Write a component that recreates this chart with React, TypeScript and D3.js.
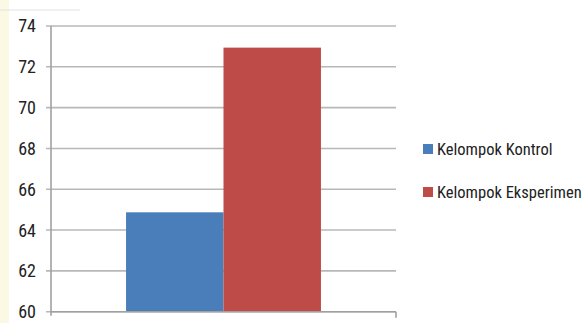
import React from "react";
import * as d3 from "d3";

const categories = ["Hasil"];
const seriesNames = ["Kelompok Kontrol", "Kelompok Eksperimen"];
const seriesValues = [64.87, 72.94];
const seriesColors = ["#4a7ebb", "#be4b48"];
const yTicks = [60, 62, 64, 66, 68, 70, 72, 74];

export default function App() {
  const W = 586, H = 323;
  const left = 51, right = 396, top = 26, bottom = 311.7;
  const y = d3.scaleLinear().domain([60, 74]).range([bottom, top]);
  const x0 = d3.scaleBand().domain(categories).range([left, right]).paddingInner(0).paddingOuter(0.385);
  const x1 = d3.scaleBand().domain(seriesNames).range([0, x0.bandwidth()]);
  const font = "'Liberation Sans Narrow', 'Roboto Condensed', Arial, sans-serif";
  return (
    <svg width={W} height={H} style={{ position: "absolute", left: 0, top: 0, background: "#fff" }}>
      <rect x={0} y={0} width={9} height={H} fill="#fbf8e4" />
      <rect x={0} y={9} width={80} height={2} fill="#e6e6e6" opacity={0.6} />
      {yTicks.map((t) => (
        <g key={t}>
          <line x1={46} x2={right} y1={y(t)} y2={y(t)} stroke="#b8b8b8" strokeWidth={1.6} />
          <text x={36} y={y(t)} dy="0.36em" textAnchor="end" fontFamily={font} fontSize={18} fill="#222">{t}</text>
        </g>
      ))}
      {categories.map((c) =>
        seriesNames.map((s, i) => (
          <rect key={s} x={(x0(c) ?? 0) + (x1(s) ?? 0)} width={x1.bandwidth()} y={y(seriesValues[i])}
            height={bottom - y(seriesValues[i])} fill={seriesColors[i]} />
        ))
      )}
      <line x1={left} x2={left} y1={top} y2={bottom + 4} stroke="#a0a0a0" strokeWidth={1.6} />
      <line x1={left} x2={right} y1={bottom} y2={bottom} stroke="#a0a0a0" strokeWidth={1.6} />
      <line x1={right} x2={right} y1={bottom} y2={bottom + 6} stroke="#a0a0a0" strokeWidth={1.6} />
      {seriesNames.map((s, i) => (
        <g key={s} transform={`translate(423, ${149 + i * 43})`}>
          <rect x={0} y={-5} width={10} height={10} fill={seriesColors[i]} />
          <text x={14} y={0} dy="0.36em" fontFamily={font} fontSize={16.5} fill="#222">{s}</text>
        </g>
      ))}
    </svg>
  );
}
